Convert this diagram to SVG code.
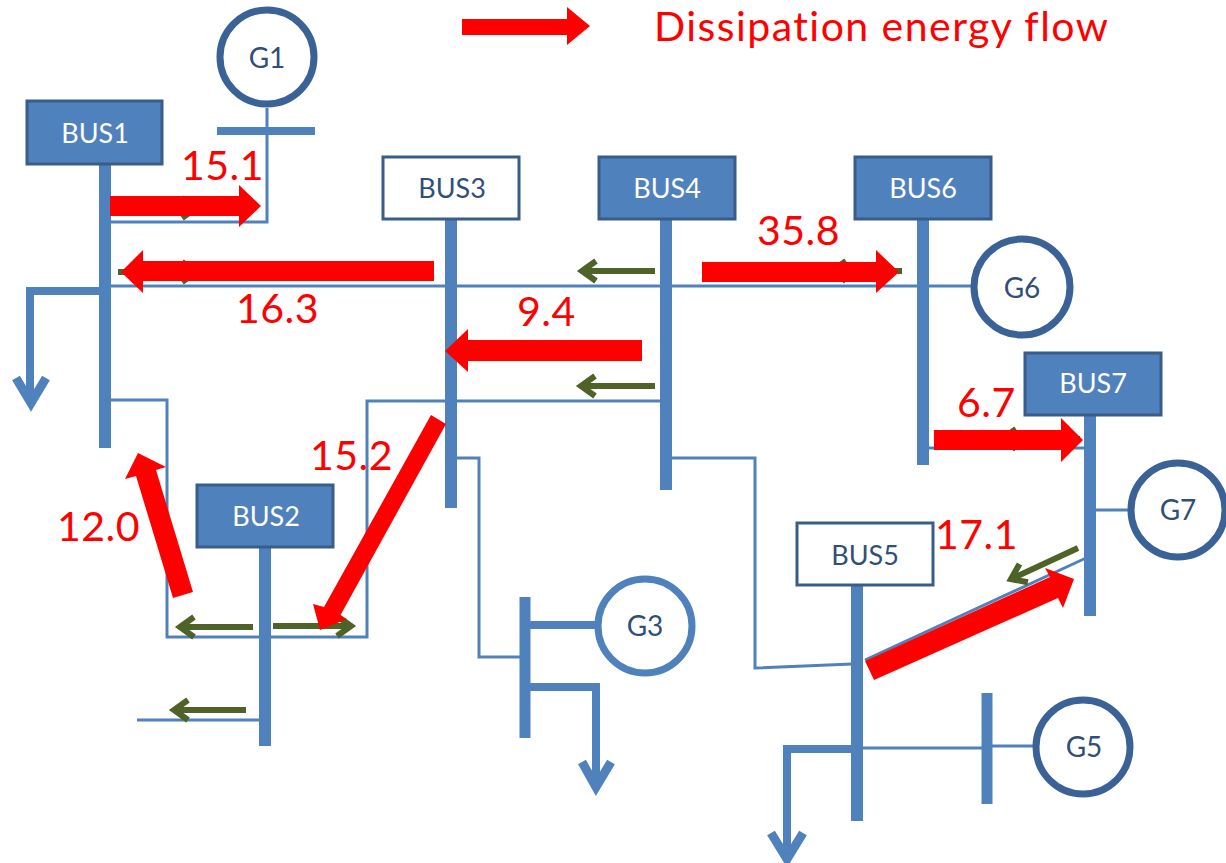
<svg xmlns="http://www.w3.org/2000/svg" width="1226" height="863" viewBox="0 0 1226 863">
<style>
.bus{fill:#4f81bd;stroke:#385d8a;stroke-width:3}
.busw{fill:#fff;stroke:#385d8a;stroke-width:3}
.bt{font:27px Lato,"Liberation Sans",sans-serif;fill:#fff;text-anchor:middle}
.btd{font:27px Lato,"Liberation Sans",sans-serif;fill:#2f4f7a;text-anchor:middle}
.gen{fill:#fff;stroke:#3b6297;stroke-width:7}
.gt{font:28px Lato,"Liberation Sans",sans-serif;fill:#2f4f7a;text-anchor:middle}
.bar{fill:none;stroke:#4f81bd;stroke-width:12}
.stub{fill:none;stroke:#4f81bd;stroke-width:11}
.mid{fill:none;stroke:#4f81bd;stroke-width:8}
.thin{fill:none;stroke:#4f81bd;stroke-width:3}
.hd{fill:none;stroke:#4f81bd;stroke-width:9}
.g{fill:none;stroke:#4f6228;stroke-width:6}
.rt{font:41px Lato,"Liberation Sans",sans-serif;fill:#f00;letter-spacing:.5px}
.lg{letter-spacing:1.45px}
</style>
<defs>
<marker id="ga" markerWidth="30" markerHeight="30" refX="18" refY="12" orient="auto" markerUnits="userSpaceOnUse" overflow="visible"><path d="M4 2L18 12L4 22" fill="none" stroke="#4f6228" stroke-width="6"/></marker>
</defs>
<g id="connectors">
<path class="thin" d="M105 222H267V108M105 286H975M105 400H167V637H367V401H662M450 458H479V657H525M666 458H755V668L852 664M865 660L1086 558M1090 510H1135M925 448H1090M857 748H987M987 746H1040M137 720H265"/>
<path class="mid" d="M105 291H30V395"/>
<path class="mid" d="M525 625H600M525 687H596V778"/>
<path class="mid" d="M857 749H787V850"/>
<path class="mid" d="M217 131H315"/>
<path class="hd" d="M16 378L31 403L46 378"/>
<path class="hd" d="M582 762L596 787L611 762"/>
<path class="hd" d="M771 833L787 859L803 833"/>
<path class="bar" d="M105 160V448M451 215V508M666 215V490M923 215V465M1090 410V616M265 545V746M857 580V821"/>
<path class="stub" d="M525 597V738M987 693V804"/>
<path class="g" marker-end="url(#ga)" d="M655 271H582"/>
<path class="g" marker-end="url(#ga)" d="M655 386H581"/>
<path class="g" marker-end="url(#ga)" d="M253 627H180"/>
<path class="g" marker-end="url(#ga)" d="M273 626H351"/>
<path class="g" marker-end="url(#ga)" d="M246 710H174"/>
<path class="g" marker-end="url(#ga)" d="M1078 548L1011 579"/>
<path class="g" marker-end="url(#ga)" d="M118 208H196"/>
<path class="g" marker-end="url(#ga)" d="M118 272H196"/>
<path class="g" marker-end="url(#ga)" d="M902 271H832"/>
<path class="g" marker-end="url(#ga)" d="M1080 439H1002"/>
</g>
<g id="G1"><circle class="gen" cx="267" cy="57" r="47"/><text class="gt" x="267" y="68">G1</text></g>
<g id="G3"><circle class="gen" style="stroke:#4f81bd" cx="645" cy="626" r="47"/><text class="gt" x="645" y="636">G3</text></g>
<g id="G5"><circle class="gen" cx="1083" cy="747" r="47"/><text class="gt" x="1084" y="757">G5</text></g>
<g id="G6"><circle class="gen" cx="1022" cy="287" r="48"/><text class="gt" x="1022" y="298">G6</text></g>
<g id="G7"><circle class="gen" cx="1178" cy="510" r="47"/><text class="gt" x="1178" y="520">G7</text></g>
<g id="BUS1"><rect class="bus" x="27" y="101" width="135" height="63"/><text class="bt" x="95" y="143">BUS1</text></g>
<g id="BUS2"><rect class="bus" x="197" y="485" width="136" height="62"/><text class="bt" x="266" y="526">BUS2</text></g>
<g id="BUS3"><rect class="busw" x="383" y="157" width="136" height="62"/><text class="btd" x="452" y="198">BUS3</text></g>
<g id="BUS4"><rect class="bus" x="599" y="157" width="136" height="62"/><text class="bt" x="667" y="198">BUS4</text></g>
<g id="BUS5"><rect class="busw" x="797" y="523" width="136" height="62"/><text class="btd" x="865" y="565">BUS5</text></g>
<g id="BUS6"><rect class="bus" x="855" y="157" width="136" height="62"/><text class="bt" x="923" y="198">BUS6</text></g>
<g id="BUS7"><rect class="bus" x="1025" y="353" width="136" height="62"/><text class="bt" x="1093" y="393">BUS7</text></g>
<g id="flows" fill="#f00">
<path d="M462 19H567V7L590 26L567 45V35H462Z"/>
<path d="M110 196H239V185L261 206L239 227V216H110Z"/>
<path d="M434 261H143V250L121 272L143 293V281H434Z"/>
<path d="M702 262H876V250L899 272L876 293V282H702Z"/>
<path d="M642 340H468V329L445 351L468 372V361H642Z"/>
<path d="M934 430H1061V418L1083 440L1061 462V450H934Z"/>
<path d="M193 592L156 470L166 467L138 453L125 479L136 476L173 598Z"/>
<path d="M431 415L324 607L313 604L320 630L347 619L340 616L446 424Z"/>
<path d="M865 661L1050 577L1045 568L1074 579L1063 608L1058 598L874 680Z"/>
</g>
<g id="labels">
<text class="rt lg" x="654" y="41">Dissipation energy flow</text>
<text class="rt" x="181" y="180">15.1</text>
<text class="rt" x="236" y="323">16.3</text>
<text class="rt" x="517" y="326">9.4</text>
<text class="rt" x="757" y="245">35.8</text>
<text class="rt" x="957" y="417">6.7</text>
<text class="rt" x="310" y="470">15.2</text>
<text class="rt" x="57" y="541">12.0</text>
<text class="rt" x="935" y="549">17.1</text>
</g>
</svg>
